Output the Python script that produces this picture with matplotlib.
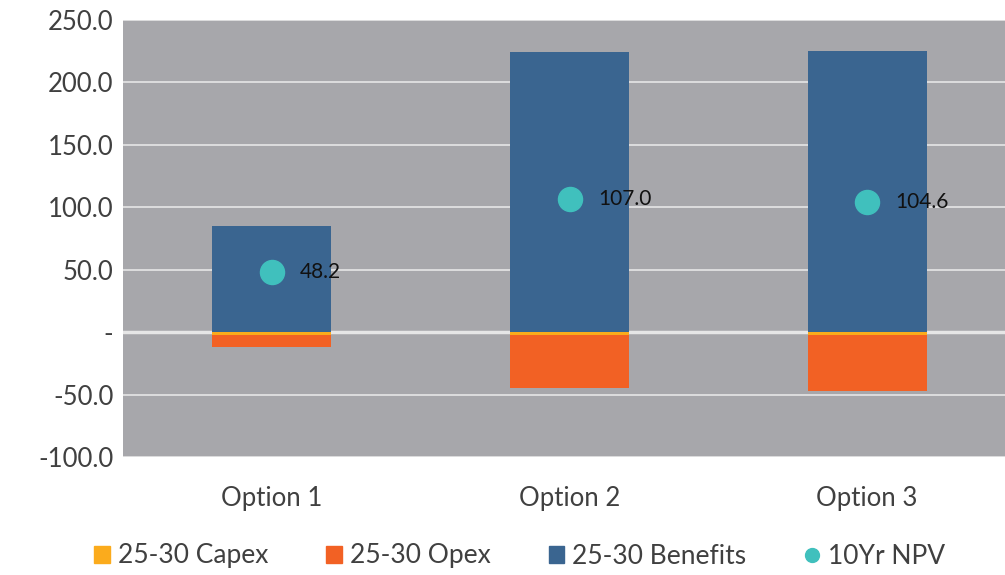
import matplotlib.pyplot as plt
from matplotlib.lines import Line2D
from matplotlib.patches import Patch
import numpy as np

plt.rcParams['font.family'] = ['Lato', 'DejaVu Sans']

categories = ["Option 1", "Option 2", "Option 3"]
capex = [-2.0, -2.0, -2.0]
opex = [-10.0, -43.0, -45.0]
benefits = [85.0, 224.0, 225.0]
npv = [48.2, 107.0, 104.6]
yticks = [-100, -50, 0, 50, 100, 150, 200, 250]
ytick_labels = ["-100.0", "-50.0", "-", "50.0", "100.0", "150.0", "200.0", "250.0"]

c_capex = "#fbab1c"
c_opex = "#f26124"
c_ben = "#3a6590"
c_npv = "#40c0bd"

fig = plt.figure(figsize=(10.05, 5.75), dpi=100)
ax = fig.add_axes([123/1005, 1 - 457/575, (1005 - 123)/1005, (457 - 20)/575])
ax.set_facecolor("#a7a7ab")

x = np.arange(len(categories))
w = 0.4
ax.bar(x, capex, w, color=c_capex, zorder=3)
ax.bar(x, opex, w, bottom=capex, color=c_opex, zorder=3)
ax.bar(x, benefits, w, color=c_ben, zorder=3)
ax.scatter(x, npv, s=300, color=c_npv, zorder=4)
for xi, v in zip(x, npv):
    ax.text(xi + 0.095, v, "%.1f" % v, va="center", ha="left", fontsize=15, color="#111111", zorder=5)

ax.set_ylim(-100, 250)
ax.set_xlim(-0.5, 2.463)
ax.set_yticks(yticks)
ax.set_yticklabels(ytick_labels)
ax.set_xticks(x)
ax.set_xticklabels(categories)
ax.tick_params(axis="both", length=0, labelsize=18.5, colors="#404040")
ax.tick_params(axis="y", pad=7)
ax.tick_params(axis="x", pad=21)
ax.grid(axis="y", color="#e6e6e6", linewidth=1.2, zorder=1)
ax.axhline(0, color="#e6e6e6", linewidth=2.5, zorder=2)
for s in ax.spines.values():
    s.set_visible(False)

handles = [
    Patch(color=c_capex, label="25-30 Capex"),
    Patch(color=c_opex, label="25-30 Opex"),
    Patch(color=c_ben, label="25-30 Benefits"),
    Line2D([], [], marker="o", linestyle="none", markersize=10, color=c_npv, label="10Yr NPV"),
]
fig.legend(handles=handles, loc="lower center", ncol=4, frameon=False, fontsize=19,
           bbox_to_anchor=(0.517, -0.03), handlelength=0.6, handleheight=0.6,
           handletextpad=0.3, columnspacing=2.2, labelcolor="#404040")

fig.savefig("out.png", dpi=100)
